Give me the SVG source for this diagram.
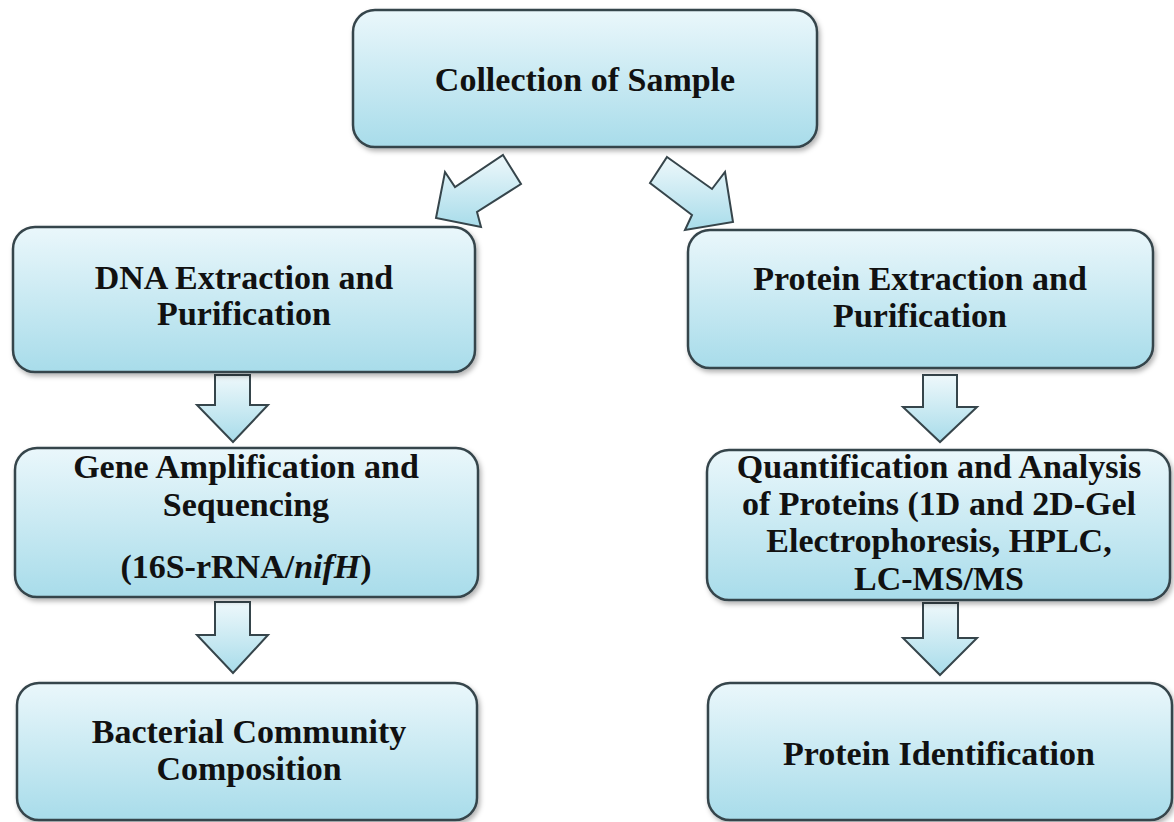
<svg xmlns="http://www.w3.org/2000/svg" width="1174" height="822" viewBox="0 0 1174 822">
<defs>
<linearGradient id="g" x1="0" y1="0" x2="0" y2="1">
<stop offset="0" stop-color="#eaf7fb"/>
<stop offset="1" stop-color="#a8dcea"/>
</linearGradient>
<linearGradient id="ga" x1="0" y1="0" x2="0" y2="1">
<stop offset="0" stop-color="#eef8fb"/>
<stop offset="1" stop-color="#a8dcea"/>
</linearGradient>
<filter id="sh" x="-5%" y="-5%" width="110%" height="115%">
<feDropShadow dx="2" dy="3" stdDeviation="2.5" flood-color="#000" flood-opacity="0.3"/>
</filter>
<style>
.box{fill:url(#g);stroke:#36454b;stroke-width:2.5;filter:url(#sh)}
.arr{fill:url(#ga);stroke:#36454b;stroke-width:2;stroke-linejoin:miter}
text{font-family:"Liberation Serif","Times New Roman",serif;font-weight:bold;font-size:34px;fill:#111;text-anchor:middle}
</style>
</defs>
<rect width="1174" height="822" fill="#fff"/>
<g id="connectors">
<polygon class="arr" points="503,155 521,184 477,212 481,227 436,218 445,172 455,187"/>
<polygon class="arr" points="667,157 712,189 725,172 733,222 685,230 692,215 650,183"/>
<polygon class="arr" points="215,375 250,375 250,405 268,405 233,442 197,405 215,405"/>
<polygon class="arr" points="215,602 250,602 250,635 268,635 233,673 197,635 215,635"/>
<polygon class="arr" points="923,375 957,375 957,407 977,407 940,442 903,407 923,407"/>
<polygon class="arr" points="923,603 958,603 958,638 977,638 940,675 903,638 923,638"/>
</g>
<g id="n1">
<rect class="box" x="353" y="10" width="464" height="137" rx="22"/>
<text x="585" y="91">Collection of Sample</text>
</g>
<g id="n2">
<rect class="box" x="13" y="227" width="462" height="145" rx="22"/>
<text x="244" y="289">DNA Extraction and</text>
<text x="244" y="325">Purification</text>
</g>
<g id="n3">
<rect class="box" x="15" y="448" width="463" height="149" rx="22"/>
<text x="246" y="478">Gene Amplification and</text>
<text x="246" y="516">Sequencing</text>
<text x="246" y="578">(16S-rRNA/<tspan font-style="italic">nifH</tspan>)</text>
</g>
<g id="n4">
<rect class="box" x="17" y="683" width="460" height="137" rx="22"/>
<text x="249" y="743">Bacterial Community</text>
<text x="249" y="780">Composition</text>
</g>
<g id="n5">
<rect class="box" x="688" y="230" width="465" height="138" rx="22"/>
<text x="920" y="290">Protein Extraction and</text>
<text x="920" y="327">Purification</text>
</g>
<g id="n6">
<rect class="box" x="707" y="450" width="463" height="150" rx="22"/>
<text x="939" y="478">Quantification and Analysis</text>
<text x="939" y="515">of Proteins (1D and 2D-Gel</text>
<text x="939" y="552">Electrophoresis, HPLC,</text>
<text x="939" y="590">LC-MS/MS</text>
</g>
<g id="n7">
<rect class="box" x="708" y="683" width="464" height="137" rx="22"/>
<text x="939" y="765">Protein Identification</text>
</g>
</svg>
